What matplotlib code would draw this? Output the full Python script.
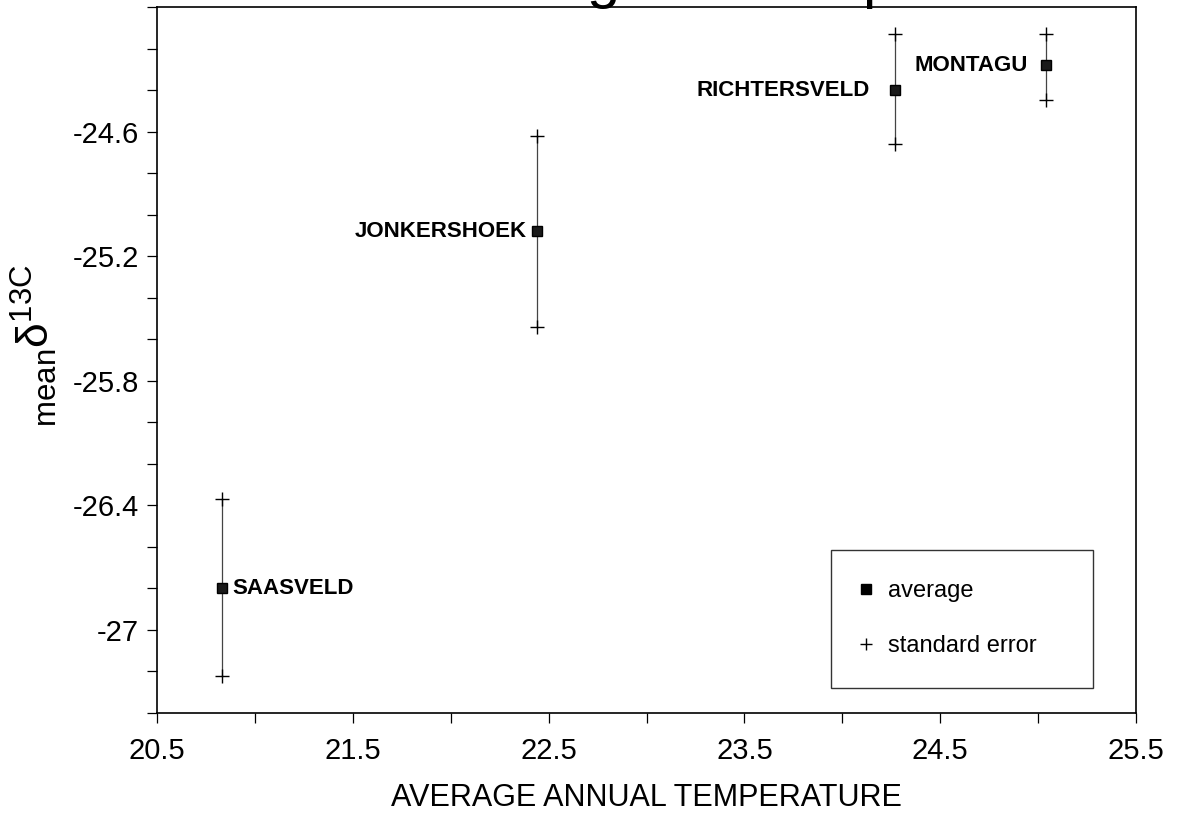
import matplotlib
matplotlib.use('Agg')
import matplotlib.pyplot as plt
from matplotlib.lines import Line2D
import numpy as np

plt.rcParams['font.family'] = ['Liberation Sans', 'DejaVu Sans']
plt.rcParams['mathtext.fontset'] = 'custom'
plt.rcParams['mathtext.rm'] = 'Liberation Sans'
plt.rcParams['mathtext.it'] = 'Liberation Sans:italic'

# sites: mean temperature, mean d13C and the standard error range
sites = ['SAASVELD', 'JONKERSHOEK', 'RICHTERSVELD', 'MONTAGU']
temperature = [20.83, 22.44, 24.27, 25.04]
mean_d13c = [-26.80, -25.08, -24.40, -24.28]
se_low = [-27.22, -25.54, -24.66, -24.45]
se_high = [-26.37, -24.62, -24.13, -24.13]

xtick_labels = ['20.5', '21.5', '22.5', '23.5', '24.5', '25.5']
ytick_labels = ['-24.6', '-25.2', '-25.8', '-26.4', '-27']

fig = plt.figure(figsize=(11.77, 8.15), dpi=100)
ax = fig.add_axes([0.1334, 0.1252, 0.8318, 0.8662])

# error bars with "+" ends, then the averages on top
ax.vlines(temperature, se_low, se_high, color='#444444', lw=0.9)
ax.plot(temperature, se_low, '+', ms=10, mew=1.0, color='black')
ax.plot(temperature, se_high, '+', ms=10, mew=1.0, color='black')
ax.plot(temperature, mean_d13c, 's', ms=7, mfc='#1a1a1a', mec='black')

# site names next to the averages
offsets = [(8, 0), (-7, 0), (-18, 0), (-13, 0)]
for name, x, y, off in zip(sites, temperature, mean_d13c, offsets):
    ax.annotate(name, (x, y), xytext=off, textcoords='offset points',
                ha='left' if off[0] > 0 else 'right', va='center',
                fontsize=16, fontweight='bold')

ax.set_xlim(20.5, 25.5)
ax.set_ylim(-27.4, -24.0)

ax.set_xticks([float(t) for t in xtick_labels])
ax.set_xticklabels(xtick_labels)
ax.set_xticks(np.arange(21.0, 25.5, 1.0), minor=True)
ax.set_yticks([float(t) for t in ytick_labels])
ax.set_yticklabels(ytick_labels)
ax.set_yticks(np.arange(-27.4, -23.95, 0.2), minor=True)

ax.tick_params(which='both', direction='out', length=7, width=0.9,
               top=False, right=False)
ax.tick_params(axis='x', labelsize=21, pad=10)
ax.tick_params(axis='y', labelsize=21, pad=6)
for s in ax.spines.values():
    s.set_linewidth(1.2)

ax.set_xlabel('AVERAGE ANNUAL TEMPERATURE', fontsize=22, labelpad=13)
ax.set_ylabel(r'$_{\mathrm{mean}}\mathrm{\delta}^{\mathrm{13C}}$',
              fontsize=32)
ax.yaxis.set_label_coords(-0.1, 0.52)

handles = [Line2D([], [], marker='s', ls='none', color='black', ms=7),
           Line2D([], [], marker='+', ls='none', color='black', ms=9)]
leg = ax.legend(handles, ['average', 'standard error'], loc='lower left',
                bbox_to_anchor=(0.688, 0.0354, 0.268, 0.19), mode='expand',
                borderaxespad=0, fontsize=17, frameon=True, fancybox=False,
                edgecolor='black', borderpad=1.3, labelspacing=1.4,
                handlelength=0.4, handletextpad=0.75)
leg.get_frame().set_linewidth(1.0)

# title runs off the top of the page; only descenders show
fig.text(0.563, 1.0 + 2 / 815, r'Mean $\delta^{13}$C against temperature',
         fontsize=43, ha='center', va='baseline')

fig.savefig('out.png', dpi=100)
